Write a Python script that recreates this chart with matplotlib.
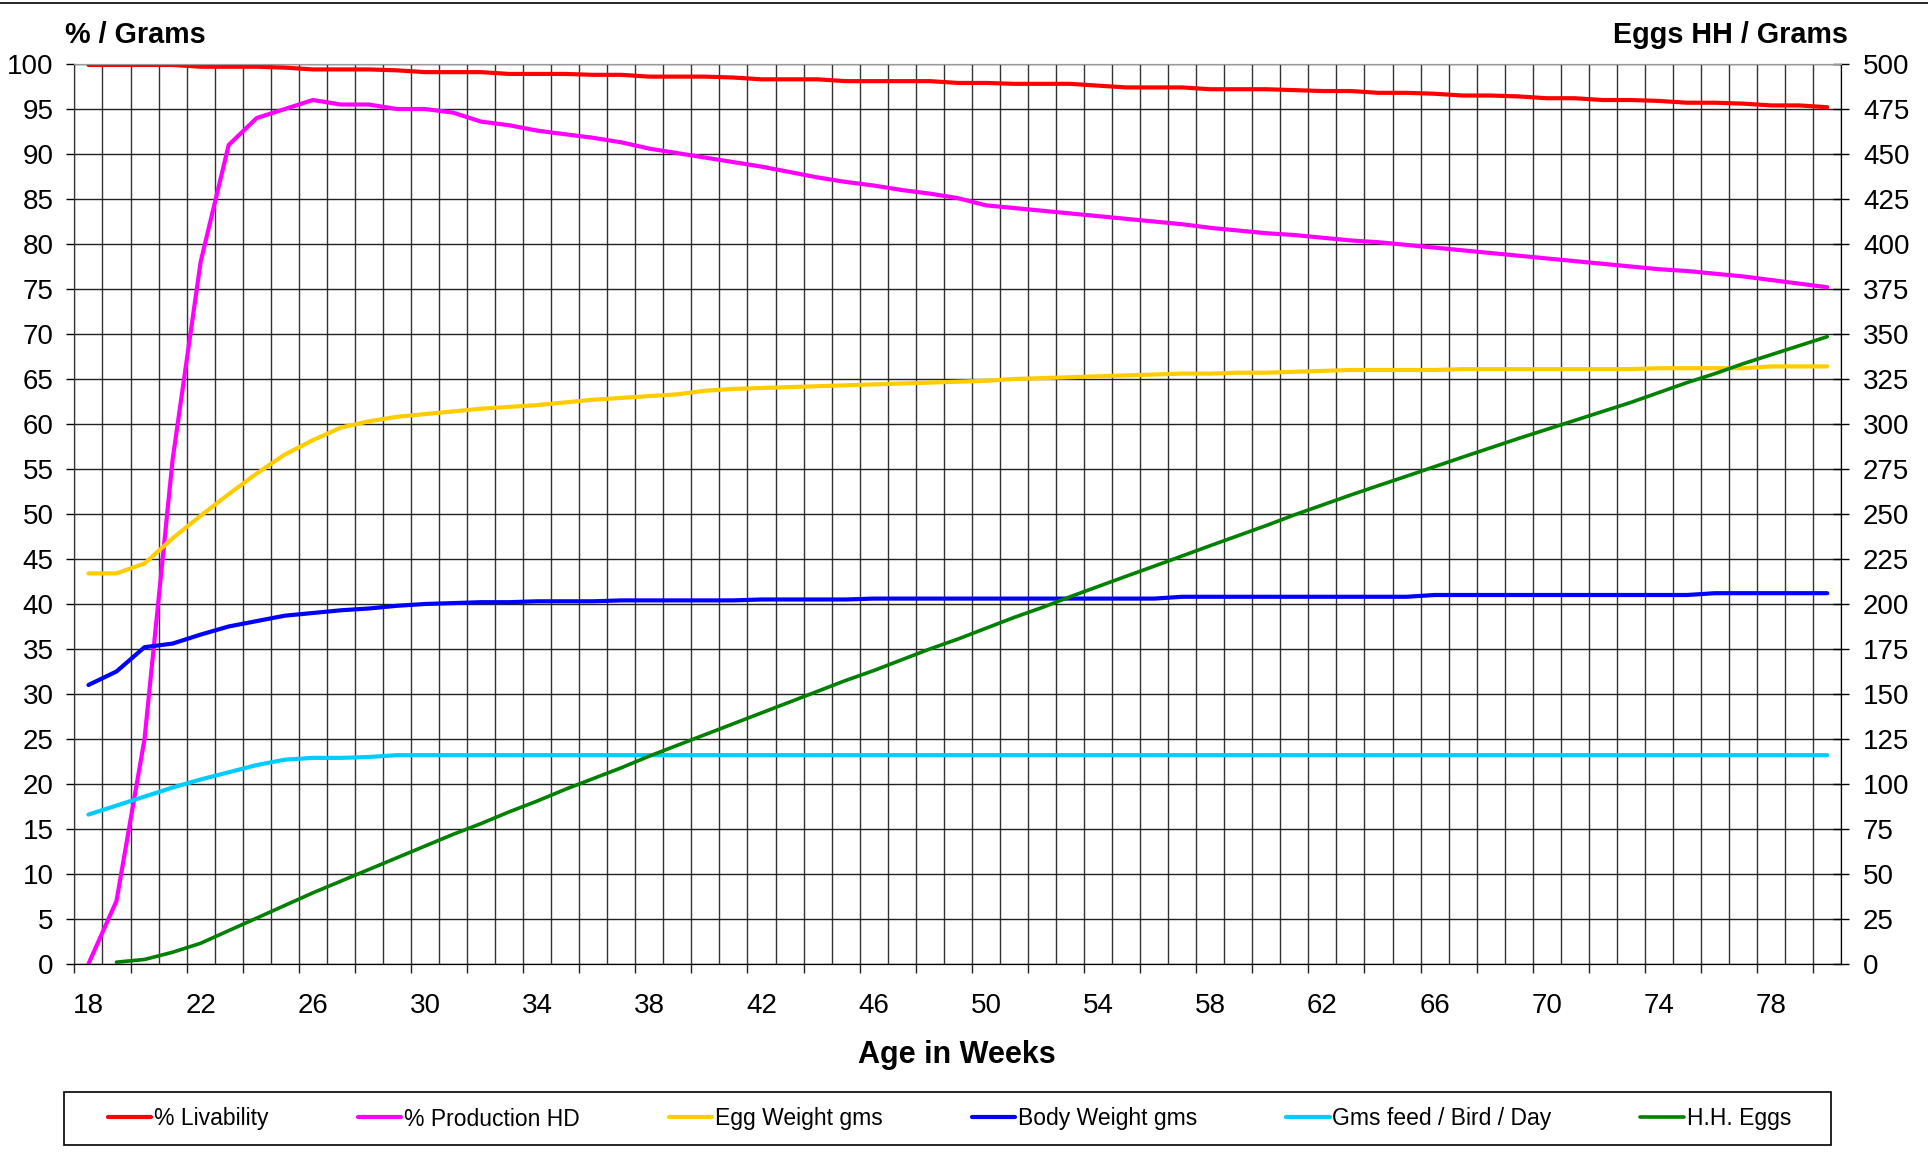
import numpy as np
import matplotlib
matplotlib.use("Agg")
import matplotlib.pyplot as plt
from matplotlib.lines import Line2D
from matplotlib.patches import Rectangle

plt.rcParams['font.family'] = ['Liberation Sans', 'DejaVu Sans']

weeks = list(range(18, 81))

livability = [99.9, 99.9, 99.9, 99.9, 99.7, 99.7, 99.7, 99.6, 99.4, 99.4,
              99.4, 99.3, 99.1, 99.1, 99.1, 98.9, 98.9, 98.9, 98.8, 98.8,
              98.6, 98.6, 98.6, 98.5, 98.3, 98.3, 98.3, 98.1, 98.1, 98.1,
              98.1, 97.9, 97.9, 97.8, 97.8, 97.8, 97.6, 97.4, 97.4, 97.4,
              97.2, 97.2, 97.2, 97.1, 97.0, 97.0, 96.8, 96.8, 96.7, 96.5,
              96.5, 96.4, 96.2, 96.2, 96.0, 96.0, 95.9, 95.7, 95.7, 95.6,
              95.4, 95.4, 95.2]

production_hd = [0, 7, 25, 56, 78, 91, 94, 95, 96, 95.5,
                 95.5, 95.0, 95.0, 94.6, 93.6, 93.2, 92.6, 92.2, 91.8, 91.3,
                 90.6, 90.1, 89.6, 89.1, 88.6, 88.0, 87.4, 86.9, 86.5, 86.0,
                 85.6, 85.1, 84.3, 84.0, 83.7, 83.4, 83.1, 82.8, 82.5, 82.2,
                 81.8, 81.5, 81.2, 81.0, 80.7, 80.4, 80.2, 79.9, 79.6, 79.3,
                 79.0, 78.7, 78.4, 78.1, 77.8, 77.5, 77.2, 77.0, 76.7, 76.4,
                 76.0, 75.6, 75.2]

egg_weight = [43.4, 43.4, 44.5, 47.3, 49.8, 52.2, 54.5, 56.6, 58.2, 59.6,
              60.3, 60.8, 61.1, 61.4, 61.7, 61.9, 62.1, 62.4, 62.7, 62.9,
              63.1, 63.3, 63.7, 63.9, 64.0, 64.1, 64.2, 64.3, 64.4, 64.5,
              64.6, 64.7, 64.8, 65.0, 65.1, 65.2, 65.3, 65.4, 65.5, 65.6,
              65.6, 65.7, 65.7, 65.8, 65.9, 66.0, 66.0, 66.0, 66.0, 66.1,
              66.1, 66.1, 66.1, 66.1, 66.1, 66.1, 66.2, 66.2, 66.2, 66.2,
              66.4, 66.4, 66.4]

body_weight = [31.0, 32.5, 35.2, 35.6, 36.6, 37.5, 38.1, 38.7, 39.0, 39.3,
               39.5, 39.8, 40.0, 40.1, 40.2, 40.2, 40.3, 40.3, 40.3, 40.4,
               40.4, 40.4, 40.4, 40.4, 40.5, 40.5, 40.5, 40.5, 40.6, 40.6,
               40.6, 40.6, 40.6, 40.6, 40.6, 40.6, 40.6, 40.6, 40.6, 40.8,
               40.8, 40.8, 40.8, 40.8, 40.8, 40.8, 40.8, 40.8, 41.0, 41.0,
               41.0, 41.0, 41.0, 41.0, 41.0, 41.0, 41.0, 41.0, 41.2, 41.2,
               41.2, 41.2, 41.2]

feed_per_bird = [16.6, 17.6, 18.6, 19.6, 20.5, 21.3, 22.1, 22.7, 22.9, 22.9,
                 23.0, 23.2, 23.2, 23.2, 23.2, 23.2, 23.2, 23.2, 23.2, 23.2,
                 23.2, 23.2, 23.2, 23.2, 23.2, 23.2, 23.2, 23.2, 23.2, 23.2,
                 23.2, 23.2, 23.2, 23.2, 23.2, 23.2, 23.2, 23.2, 23.2, 23.2,
                 23.2, 23.2, 23.2, 23.2, 23.2, 23.2, 23.2, 23.2, 23.2, 23.2,
                 23.2, 23.2, 23.2, 23.2, 23.2, 23.2, 23.2, 23.2, 23.2, 23.2,
                 23.2, 23.2, 23.2]

# hen-housed eggs, right axis (none at week 18)
hh_eggs = [np.nan, 1, 2.5, 6.5, 11.5, 18.5, 25.5, 32.5, 39.5, 46,
           52.5, 59, 65.5, 72, 78, 84.5, 90.5, 97, 103, 109,
           115.5, 121.5, 127.5, 133.5, 139.5, 145.5, 151.5, 157.5, 163, 169,
           175, 180.5, 186.5, 192.5, 198, 204, 209.7, 215.4, 221, 226.7,
           232.4, 238, 243.6, 249.5, 255, 260.5, 265.8, 271, 276.3, 281.6,
           286.8, 292, 297, 302, 307, 312, 317.5, 323, 328, 333.5,
           338.5, 343.5, 348.5]

left_series = [
    ("% Livability", livability, "#FF0000"),
    ("% Production HD", production_hd, "#FF00FF"),
    ("Egg Weight gms", egg_weight, "#FFCC00"),
    ("Body Weight gms", body_weight, "#0000FF"),
    ("Gms feed / Bird / Day", feed_per_bird, "#00CCFF"),
]

fig = plt.figure(figsize=(19.28, 11.60), dpi=100)
ax = fig.add_axes([0.0386, 0.169, 0.9164, 0.7758])

for label, vals, color in left_series:
    ax.plot(weeks, vals, color=color, lw=3.0, label=label, solid_capstyle='round')

ax2 = ax.twinx()
ax2.plot(weeks, hh_eggs, color="#008000", lw=2.6, label="H.H. Eggs",
         solid_capstyle='round')

ax.set_xlim(17.5, 80.5)
ax.set_ylim(0, 100)
ax2.set_ylim(0, 500)

ax.set_yticks(np.arange(0, 101, 5))
ax2.set_yticks(np.arange(0, 501, 25))
ax.set_xticks(np.arange(18, 81, 4))
ax.set_xticks(np.arange(17.5, 81, 1), minor=True)

ax.grid(True, axis='y', which='major', color='#222222', lw=1.0)
ax.grid(True, axis='x', which='minor', color='#333333', lw=1.0)
ax.set_axisbelow(True)

ax.tick_params(axis='y', labelsize=20, length=6, width=1, pad=9)
ax.tick_params(axis='x', which='major', labelsize=20, length=0, pad=21)
ax.tick_params(axis='x', which='minor', length=0)
ax2.tick_params(axis='y', labelsize=20, length=11.5, width=1, pad=10, direction='inout')

# tick marks every two weeks on the category boundaries
sec = ax.secondary_xaxis('bottom')
sec.set_xticks(np.arange(17.5, 81, 2))
sec.set_xticklabels([])
sec.tick_params(length=6.5, width=1, color='#222222')
sec.spines['bottom'].set_visible(False)

for a in (ax, ax2):
    a.spines['top'].set_color('#999999')
    a.spines['left'].set_color('#333333')
    a.spines['right'].set_color('black')
    a.spines['bottom'].set_color('black')

fig.text(65 / 1928, 1 - 35 / 1160, "% / Grams", fontsize=20.7, fontweight='bold',
         ha='left', va='center')
fig.text(1848 / 1928, 1 - 35 / 1160, "Eggs HH / Grams", fontsize=20.7, fontweight='bold',
         ha='right', va='center')
fig.text(957 / 1928, 1 - 1055 / 1160, "Age in Weeks", fontsize=22, fontweight='bold',
         ha='center', va='center')

# top border of the chart area
fig.add_artist(Line2D([0, 1], [1 - 3 / 1160, 1 - 3 / 1160], transform=fig.transFigure,
                      color='black', lw=1.2))

# legend box
fig.add_artist(Rectangle((64 / 1928, 1 - 1145 / 1160), 1767 / 1928, 53 / 1160,
                         transform=fig.transFigure, fill=False, edgecolor='black', lw=1.2))
handles = ax.get_lines() + ax2.get_lines()
leg = fig.legend(handles, [h.get_label() for h in handles], loc='center',
                 bbox_to_anchor=(949.5 / 1928, 1 - 1119 / 1160), ncol=6, frameon=False,
                 fontsize=16.5, handlelength=1.9, handletextpad=0.12, columnspacing=3.88)

fig.savefig("out.png", dpi=100)
